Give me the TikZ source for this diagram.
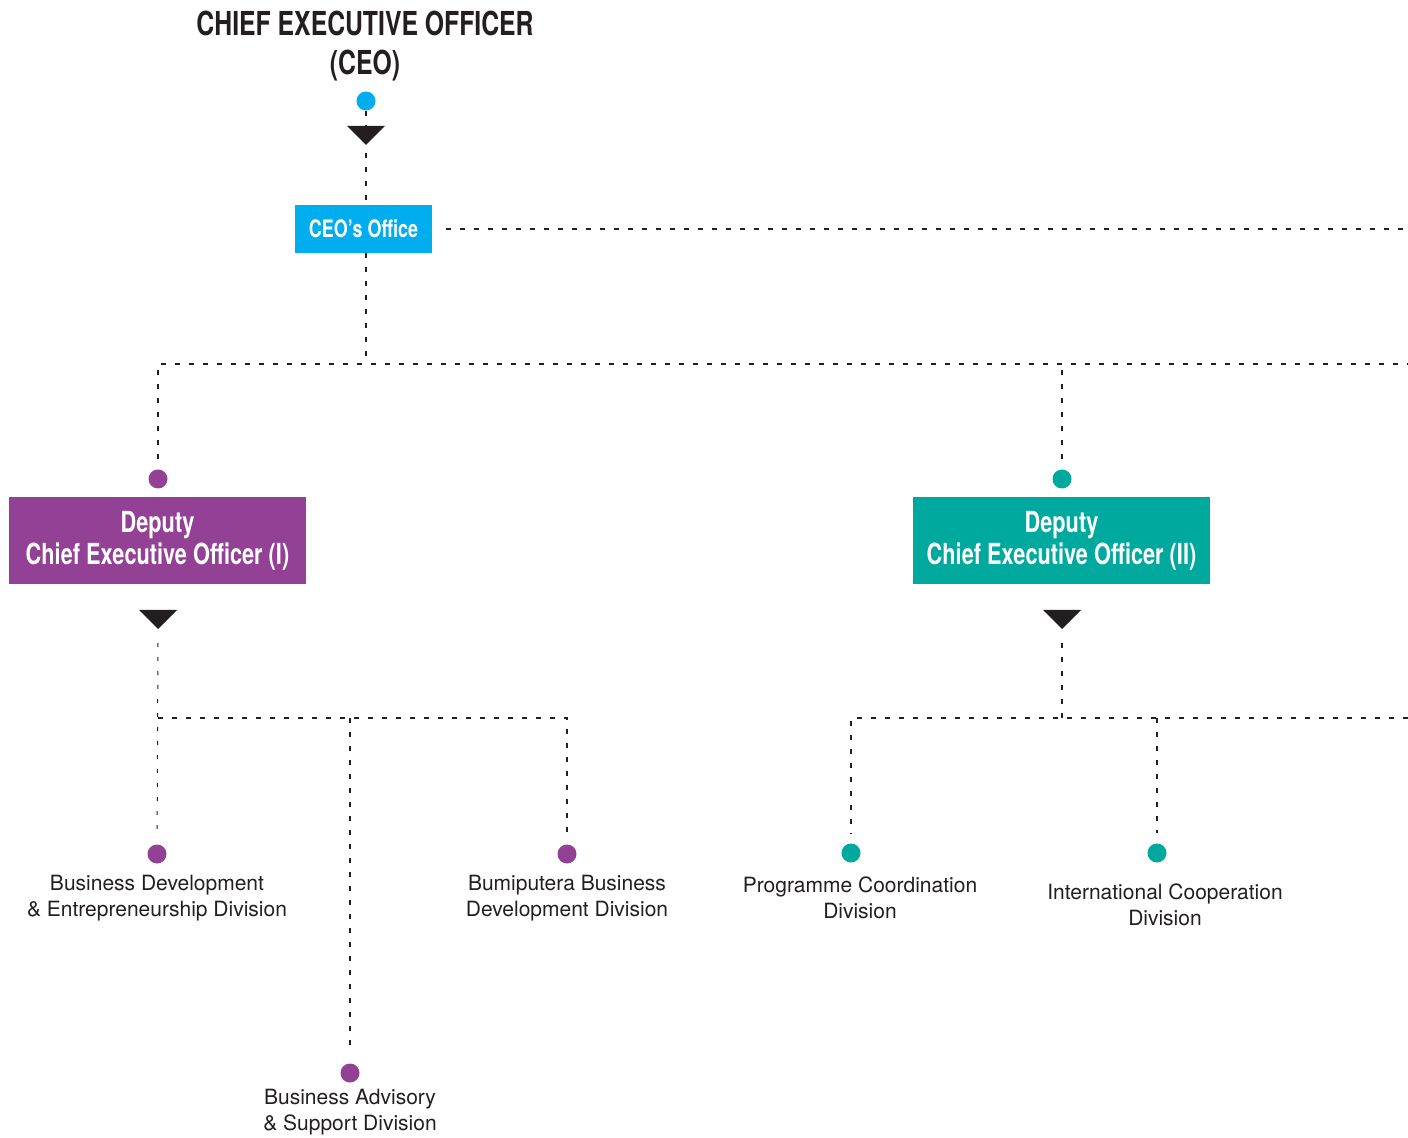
\documentclass[tikz,border=0pt]{standalone}
\usepackage{fontspec}
\setmainfont{TeX Gyre Heros}
\newfontfamily\condfont[FakeStretch=0.75]{TeX Gyre Heros}
\usetikzlibrary{positioning}
\definecolor{ceoblue}{HTML}{00AEEF}
\definecolor{dcpurple}{HTML}{924195}
\definecolor{dcteal}{HTML}{00A99D}
\definecolor{inkgray}{HTML}{231F20}

\begin{document}
\begin{tikzpicture}[x=0.5pt,y=-0.5pt,
    link/.style={line width=1.2pt,inkgray,dash pattern=on 2.5pt off 4.5pt},
    thinlink/.style={line width=0.5pt,inkgray,dash pattern=on 2pt off 5pt},
    dot/.style={circle,inner sep=0pt,minimum size=9.5pt},
    headbox/.style={inner sep=0pt,text=white,align=center,font=\condfont\bfseries\fontsize{14.5}{16}\selectfont},
    division/.style={align=center,text=inkgray,font=\fontsize{10.5}{13}\selectfont}]
      \useasboundingbox (0,0) rectangle (1408,1138);

      % top of the chart
      \node[align=center,text=inkgray,font=\condfont\bfseries\fontsize{16.5}{19.5}\selectfont] (ceotitle) at (365,46) {CHIEF EXECUTIVE OFFICER\\(CEO)};
      \node[dot,fill=ceoblue] (ceodot) at (366,101) {};
      \node[fill=ceoblue,inner sep=0pt,minimum width=68.5pt,minimum height=24pt,text=white,font=\condfont\bfseries\fontsize{12}{14}\selectfont] (ceooffice) at (363.5,229) {CEO’s Office};

      \coordinate (ceoarrow) at (366,126);
      \coordinate (split) at (366,364);
      \coordinate (edgeA) at (1408,229);
      \coordinate (edgeB) at (1408,364);

      % deputies
      \node[dot,fill=dcpurple] (dep1dot) at (158,479) {};
      \node[dot,fill=dcteal] (dep2dot) at (1062,479) {};
      \node[headbox,fill=dcpurple,minimum width=148.5pt,minimum height=43.5pt] (dep1) at (157.5,540.5) {Deputy\\Chief Executive Officer (I)};
      \node[headbox,fill=dcteal,minimum width=148.5pt,minimum height=43.5pt] (dep2) at (1061.5,540.5) {Deputy\\Chief Executive Officer (II)};

      \coordinate (dep1arrow) at (158,610);
      \coordinate (dep2arrow) at (1062,610);
      \coordinate (splitL) at (158,718);
      \coordinate (splitR) at (1062,718);
      \coordinate (edgeC) at (1408,718);

      % divisions
      \node[dot,fill=dcpurple] (bdedot) at (157,854) {};
      \node[dot,fill=dcpurple] (bsddot) at (350,1073) {};
      \node[dot,fill=dcpurple] (bbddot) at (567,854) {};
      \node[dot,fill=dcteal] (pcddot) at (851,853) {};
      \node[dot,fill=dcteal] (icddot) at (1157,853) {};

      \node[division] (bde) at (157,898) {Business Development\\\& Entrepreneurship Division};
      \node[division] (bsd) at (350,1112) {Business Advisory\\\& Support Division};
      \node[division] (bbd) at (567,898) {Bumiputera Business\\Development Division};
      \node[division] (pcd) at (860,898) {Programme Coordination\\Division};
      \node[division] (icd) at (1165,905) {International Cooperation\\Division};

      % connectors
      \draw[link] (ceodot) -- (ceodot |- ceooffice.north);
      \draw[link,shorten <=7pt] (ceooffice) -- (edgeA);
      \draw[link] (split |- ceooffice.south) -- (split);
      \draw[link,shorten <=5pt] (dep1dot) |- (edgeB);
      \draw[link,shorten <=5pt] (dep2dot) -- (dep2dot |- split);

      \draw[thinlink,shorten >=5pt] (dep1arrow) ++(0,33) -- (bdedot);
      \draw[link,shorten >=5pt] (splitL) -| (bbddot);
      \draw[link,shorten >=5pt] (splitL -| bsddot) -- (bsddot);
      \draw[link] (dep2arrow) ++(0,33) -- (splitR);
      \draw[link,shorten >=5pt] (edgeC) -| (pcddot);
      \draw[link,shorten >=5pt] (splitR -| icddot) -- (icddot);

      % arrow heads
      \fill[inkgray] (ceoarrow) ++(-19,0) -- ++(38,0) -- ++(-19,19) -- cycle;
      \fill[inkgray] (dep1arrow) ++(-19,0) -- ++(38,0) -- ++(-19,19) -- cycle;
      \fill[inkgray] (dep2arrow) ++(-19,0) -- ++(38,0) -- ++(-19,19) -- cycle;
    \end{tikzpicture}
\end{document}
